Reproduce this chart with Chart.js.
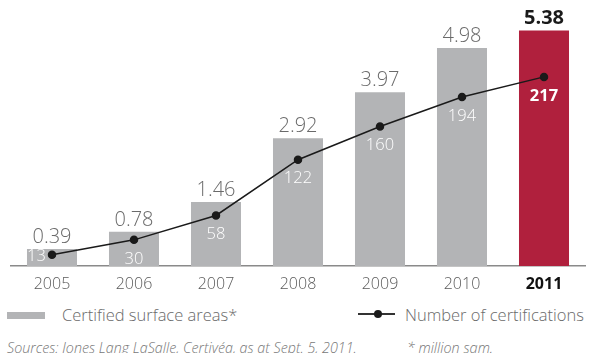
<!DOCTYPE html>
<html>
<head>
<meta charset="utf-8">
<script src="https://cdn.jsdelivr.net/npm/chart.js@4/dist/chart.umd.min.js"></script>
<style>
    body { margin: 0; background: #fff; font-family: "Open Sans", Lato, sans-serif; }
    #wrap { position: relative; width: 590px; height: 353px; overflow: hidden; }
    #graph { position: absolute; left: 0; top: 0; }
    .legend { position: absolute; top: 304px; font-size: 16.5px; line-height: 22px; color: #6a6a6a; font-weight: 300; }
    .swatch { position: absolute; display: inline-block; }
    .foot { position: absolute; top: 339px; font-size: 14.3px; line-height: 18px; font-style: italic; color: #777; font-weight: 300; }
</style>
</head>
<body>
<div id="wrap">
    <canvas id="graph" width="590" height="298"></canvas>

    <div class="swatch" style="left:7px; top:312px; width:38px; height:7px; background:#b3b4b6;"></div>
    <div class="legend" style="left:62px;">Certified surface areas*</div>

    <div class="swatch" style="left:358px; top:313px; width:37px; height:2px; background:#333;"></div>
    <div class="swatch" style="left:374px; top:310px; width:8px; height:8px; border-radius:50%; background:#1a1a1a;"></div>
    <div class="legend" style="left:405px;">Number of certifications</div>

    <div class="foot" style="left:7px;">Sources: Jones Lang LaSalle, Certivéa, as at Sept. 5, 2011.</div>
    <div class="foot" style="left:407px;">* million sqm.</div>
</div>

<script>
const years = ["2005", "2006", "2007", "2008", "2009", "2010", "2011"];
const surfaceAreas = [0.39, 0.78, 1.46, 2.92, 3.97, 4.98, 5.38];
const certifications = [13, 30, 58, 122, 160, 194, 217];

const GREY = "#b3b4b6";
const RED = "#b0203d";
const FONT = "'Open Sans', Lato, sans-serif";

const barColors = years.map((y, i) => i === years.length - 1 ? RED : GREY);

// value labels above bars and below points
const valueLabels = {
    id: "valueLabels",
    afterDatasetsDraw(chart) {
        const ctx = chart.ctx;
        const bars = chart.getDatasetMeta(0).data;
        const points = chart.getDatasetMeta(1).data;
        const last = years.length - 1;

        ctx.save();
        bars.forEach((bar, i) => {
            ctx.textAlign = "center";
            ctx.textBaseline = "alphabetic";
            ctx.fillStyle = i === last ? "#1a1a1a" : "#6a6a6a";
            ctx.font = (i === last ? "bold " : "300 ") + "20px " + FONT;
            ctx.fillText(surfaceAreas[i].toFixed(2), bar.x, bar.y - 6);
        });

        points.forEach((pt, i) => {
            ctx.fillStyle = "#ffffff";
            ctx.textBaseline = "middle";
            ctx.font = (i === last ? "bold " : "300 ") + "16.5px " + FONT;
            if (i === 0) {
                // no room below the first point
                ctx.textAlign = "left";
                ctx.fillText(String(certifications[i]), bars[i].x - 25, pt.y + 2);
            } else {
                ctx.textAlign = "center";
                ctx.fillText(String(certifications[i]), pt.x, pt.y + 19);
            }
        });
        ctx.restore();
    }
};

const config = {
    data: {
        labels: years,
        datasets: [
            {
                type: "bar",
                label: "Certified surface areas*",
                data: surfaceAreas,
                backgroundColor: barColors,
                yAxisID: "y",
                categoryPercentage: 1,
                barPercentage: 0.61,
                order: 1
            },
            {
                type: "line",
                label: "Number of certifications",
                data: certifications,
                borderColor: "#1a1a1a",
                backgroundColor: "#1a1a1a",
                borderWidth: 1.5,
                pointRadius: 3.5,
                pointHoverRadius: 3.5,
                tension: 0,
                yAxisID: "y1",
                order: 0
            }
        ]
    },
    options: {
        responsive: false,
        animation: false,
        layout: {
            padding: { left: 11, right: 3, top: 0, bottom: 0 }
        },
        plugins: {
            legend: { display: false },
            tooltip: { enabled: false }
        },
        scales: {
            x: {
                offset: true,
                grid: { display: false, drawTicks: false },
                border: { display: true, color: "#8a8a8a", width: 1.5 },
                ticks: {
                    padding: 9,
                    color: (c) => c.index === years.length - 1 ? "#111" : "#5a5a5a",
                    font: (c) => ({
                        family: FONT,
                        size: 16,
                        weight: c.index === years.length - 1 ? "bold" : "300"
                    })
                },
                afterFit: (scale) => { scale.height = 32; }
            },
            y: {
                display: false,
                min: 0,
                max: 5.96
            },
            y1: {
                display: false,
                min: 0,
                max: 299.5
            }
        }
    },
    plugins: [valueLabels]
};

new Chart(document.querySelector("#graph"), config);
</script>
</body>
</html>
